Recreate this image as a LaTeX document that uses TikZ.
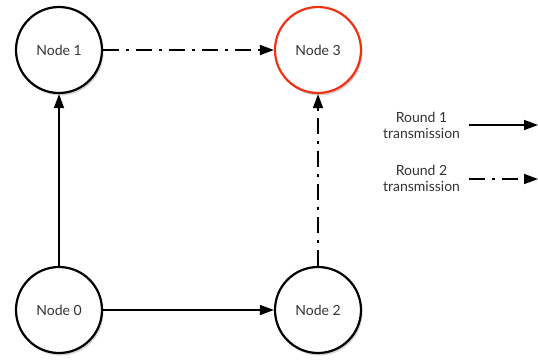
\documentclass[tikz,border=0pt]{standalone}
\usepackage{fontspec}
\setmainfont{Lato}
\usetikzlibrary{arrows.meta,shadows}
\begin{document}
\begin{tikzpicture}[x=1pt,y=1pt,
  netnode/.style={circle,draw=black,line width=2.2pt,fill=white,minimum size=86pt,inner sep=0pt,
    font=\fontsize{14}{16}\selectfont,text=black!80,
    drop shadow={opacity=0.35,shadow xshift=1.5pt,shadow yshift=-2.5pt}},
  hot/.style={draw={rgb,255:red,240;green,50;blue,20}},
  link/.style={line width=1.6pt,-{Triangle[length=14pt,width=10pt]}},
  dashdot/.style={dash pattern=on 16pt off 7pt on 3pt off 7pt},
  legend/.style={align=center,font=\fontsize{14}{16}\selectfont,text=black!80}]
\useasboundingbox (0,0) rectangle (538,360);
\node[netnode] (n1) at (59,310) {Node 1};
\node[netnode,hot] (n3) at (318,310) {Node 3};
\node[netnode] (n0) at (59,50) {Node 0};
\node[netnode] (n2) at (318,50) {Node 2};
\draw[link] (n0) -- (n1);
\draw[link] (n0) -- (n2);
\draw[link,dashdot] (n1) -- (n3);
\draw[link,dashdot] (n2) -- (n3);
\node[legend] (l1) at (421.5,235) {Round 1\\transmission};
\node[legend] (l2) at (421.5,182) {Round 2\\transmission};
\coordinate (a1s) at (469,235);
\coordinate (a1e) at (538,235);
\coordinate (a2s) at (469,181);
\coordinate (a2e) at (538,181);
\draw[link] (a1s) -- (a1e);
\draw[link,dashdot] (a2s) -- (a2e);
\end{tikzpicture}
\end{document}
